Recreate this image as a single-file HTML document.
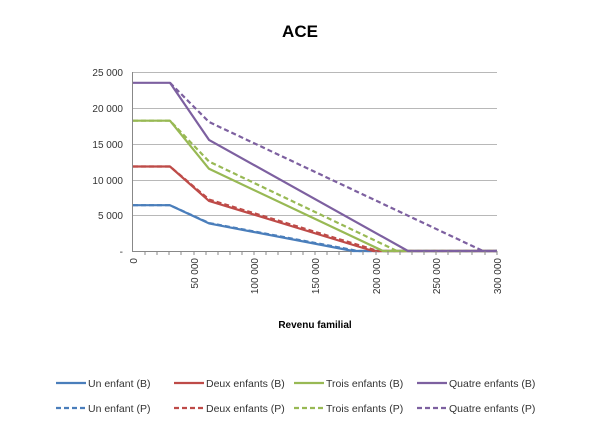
<!DOCTYPE html>
<html><head><meta charset="utf-8"><style>body{margin:0;background:#fff}svg{display:block;font-family:"Liberation Sans",sans-serif}</style></head><body>
<svg width="600" height="428" viewBox="0 0 600 428">
<text x="300" y="37" font-size="17" font-weight="bold" text-anchor="middle">ACE</text>
<g stroke="#b8b8b8" stroke-width="1">
<line x1="133" y1="72.5" x2="497" y2="72.5"/><line x1="133" y1="108.5" x2="497" y2="108.5"/><line x1="133" y1="144.5" x2="497" y2="144.5"/><line x1="133" y1="180.5" x2="497" y2="180.5"/><line x1="133" y1="215.5" x2="497" y2="215.5"/>
<line x1="133" y1="251.5" x2="497" y2="251.5" stroke="#888"/><line x1="132.5" y1="72" x2="132.5" y2="252" stroke="#888"/>
</g>
<g font-size="10" fill="#333" text-anchor="end">
<text x="123" y="76">25 000</text><text x="123" y="112">20 000</text><text x="123" y="148">15 000</text><text x="123" y="184">10 000</text><text x="123" y="219">5 000</text><text x="123" y="255">-</text>
</g>
<g font-size="10" fill="#333" text-anchor="end">
<text transform="translate(137,258) rotate(-90)">0</text>
<text transform="translate(198,258) rotate(-90)">50 000</text>
<text transform="translate(258,258) rotate(-90)">100 000</text>
<text transform="translate(319,258) rotate(-90)">150 000</text>
<text transform="translate(380,258) rotate(-90)">200 000</text>
<text transform="translate(440,258) rotate(-90)">250 000</text>
<text transform="translate(501,258) rotate(-90)">300 000</text>
</g>
<text x="315" y="328" font-size="10" font-weight="bold" text-anchor="middle">Revenu familial</text>
<g fill="none" stroke-width="2.2" stroke-linejoin="round">
<polyline stroke="#4a7ebb" points="133,205.2 170,205.2 209,223.4 353,251 497,251"/>
<polyline stroke="#4a7ebb" stroke-dasharray="5,3" points="133,205.2 170,205.2 209,223 358,251 497,251"/>
<polyline stroke="#be4b48" points="133,166.5 170,166.5 209,200.9 373,251 497,251"/>
<polyline stroke="#be4b48" stroke-dasharray="5,3" points="133,166.5 170,166.5 209,199.5 378,251 497,251"/>
<polyline stroke="#98b954" points="133,120.7 170,120.7 209,168.8 383,251 497,251"/>
<polyline stroke="#98b954" stroke-dasharray="5,3" points="133,120.7 170,120.7 209,161.5 397,251 497,251"/>
<polyline stroke="#7d60a0" points="133,82.8 170,82.8 209,139.9 408,251 497,251"/>
<polyline stroke="#7d60a0" stroke-dasharray="5,3" points="170,82.8 209,122 483,251 497,251"/>
</g>
<g font-size="10.5" fill="#333" stroke-width="2.2">
<line x1="56" y1="383" x2="86" y2="383" stroke="#4a7ebb"/><text x="88" y="387">Un enfant (B)</text>
<line x1="174" y1="383" x2="204" y2="383" stroke="#be4b48"/><text x="206" y="387">Deux enfants (B)</text>
<line x1="294" y1="383" x2="324" y2="383" stroke="#98b954"/><text x="326" y="387">Trois enfants (B)</text>
<line x1="417" y1="383" x2="447" y2="383" stroke="#7d60a0"/><text x="449" y="387">Quatre enfants (B)</text>
<line x1="56" y1="408" x2="86" y2="408" stroke="#4a7ebb" stroke-dasharray="5,3"/><text x="88" y="412">Un enfant (P)</text>
<line x1="174" y1="408" x2="204" y2="408" stroke="#be4b48" stroke-dasharray="5,3"/><text x="206" y="412">Deux enfants (P)</text>
<line x1="294" y1="408" x2="324" y2="408" stroke="#98b954" stroke-dasharray="5,3"/><text x="326" y="412">Trois enfants (P)</text>
<line x1="417" y1="408" x2="447" y2="408" stroke="#7d60a0" stroke-dasharray="5,3"/><text x="449" y="412">Quatre enfants (P)</text>
</g>
<g stroke="#888">
<line x1="145" y1="251" x2="145" y2="255"/><line x1="157" y1="251" x2="157" y2="255"/><line x1="169" y1="251" x2="169" y2="255"/><line x1="181" y1="251" x2="181" y2="255"/><line x1="194" y1="251" x2="194" y2="255"/>
<line x1="206" y1="251" x2="206" y2="255"/><line x1="218" y1="251" x2="218" y2="255"/><line x1="230" y1="251" x2="230" y2="255"/><line x1="242" y1="251" x2="242" y2="255"/><line x1="254" y1="251" x2="254" y2="255"/>
<line x1="266" y1="251" x2="266" y2="255"/><line x1="278" y1="251" x2="278" y2="255"/><line x1="291" y1="251" x2="291" y2="255"/><line x1="303" y1="251" x2="303" y2="255"/><line x1="315" y1="251" x2="315" y2="255"/>
<line x1="327" y1="251" x2="327" y2="255"/><line x1="339" y1="251" x2="339" y2="255"/><line x1="351" y1="251" x2="351" y2="255"/><line x1="363" y1="251" x2="363" y2="255"/><line x1="376" y1="251" x2="376" y2="255"/>
<line x1="388" y1="251" x2="388" y2="255"/><line x1="400" y1="251" x2="400" y2="255"/><line x1="412" y1="251" x2="412" y2="255"/><line x1="424" y1="251" x2="424" y2="255"/><line x1="436" y1="251" x2="436" y2="255"/>
<line x1="448" y1="251" x2="448" y2="255"/><line x1="460" y1="251" x2="460" y2="255"/><line x1="472" y1="251" x2="472" y2="255"/><line x1="485" y1="251" x2="485" y2="255"/><line x1="497" y1="251" x2="497" y2="255"/>
</g>
</svg>
</body></html>
